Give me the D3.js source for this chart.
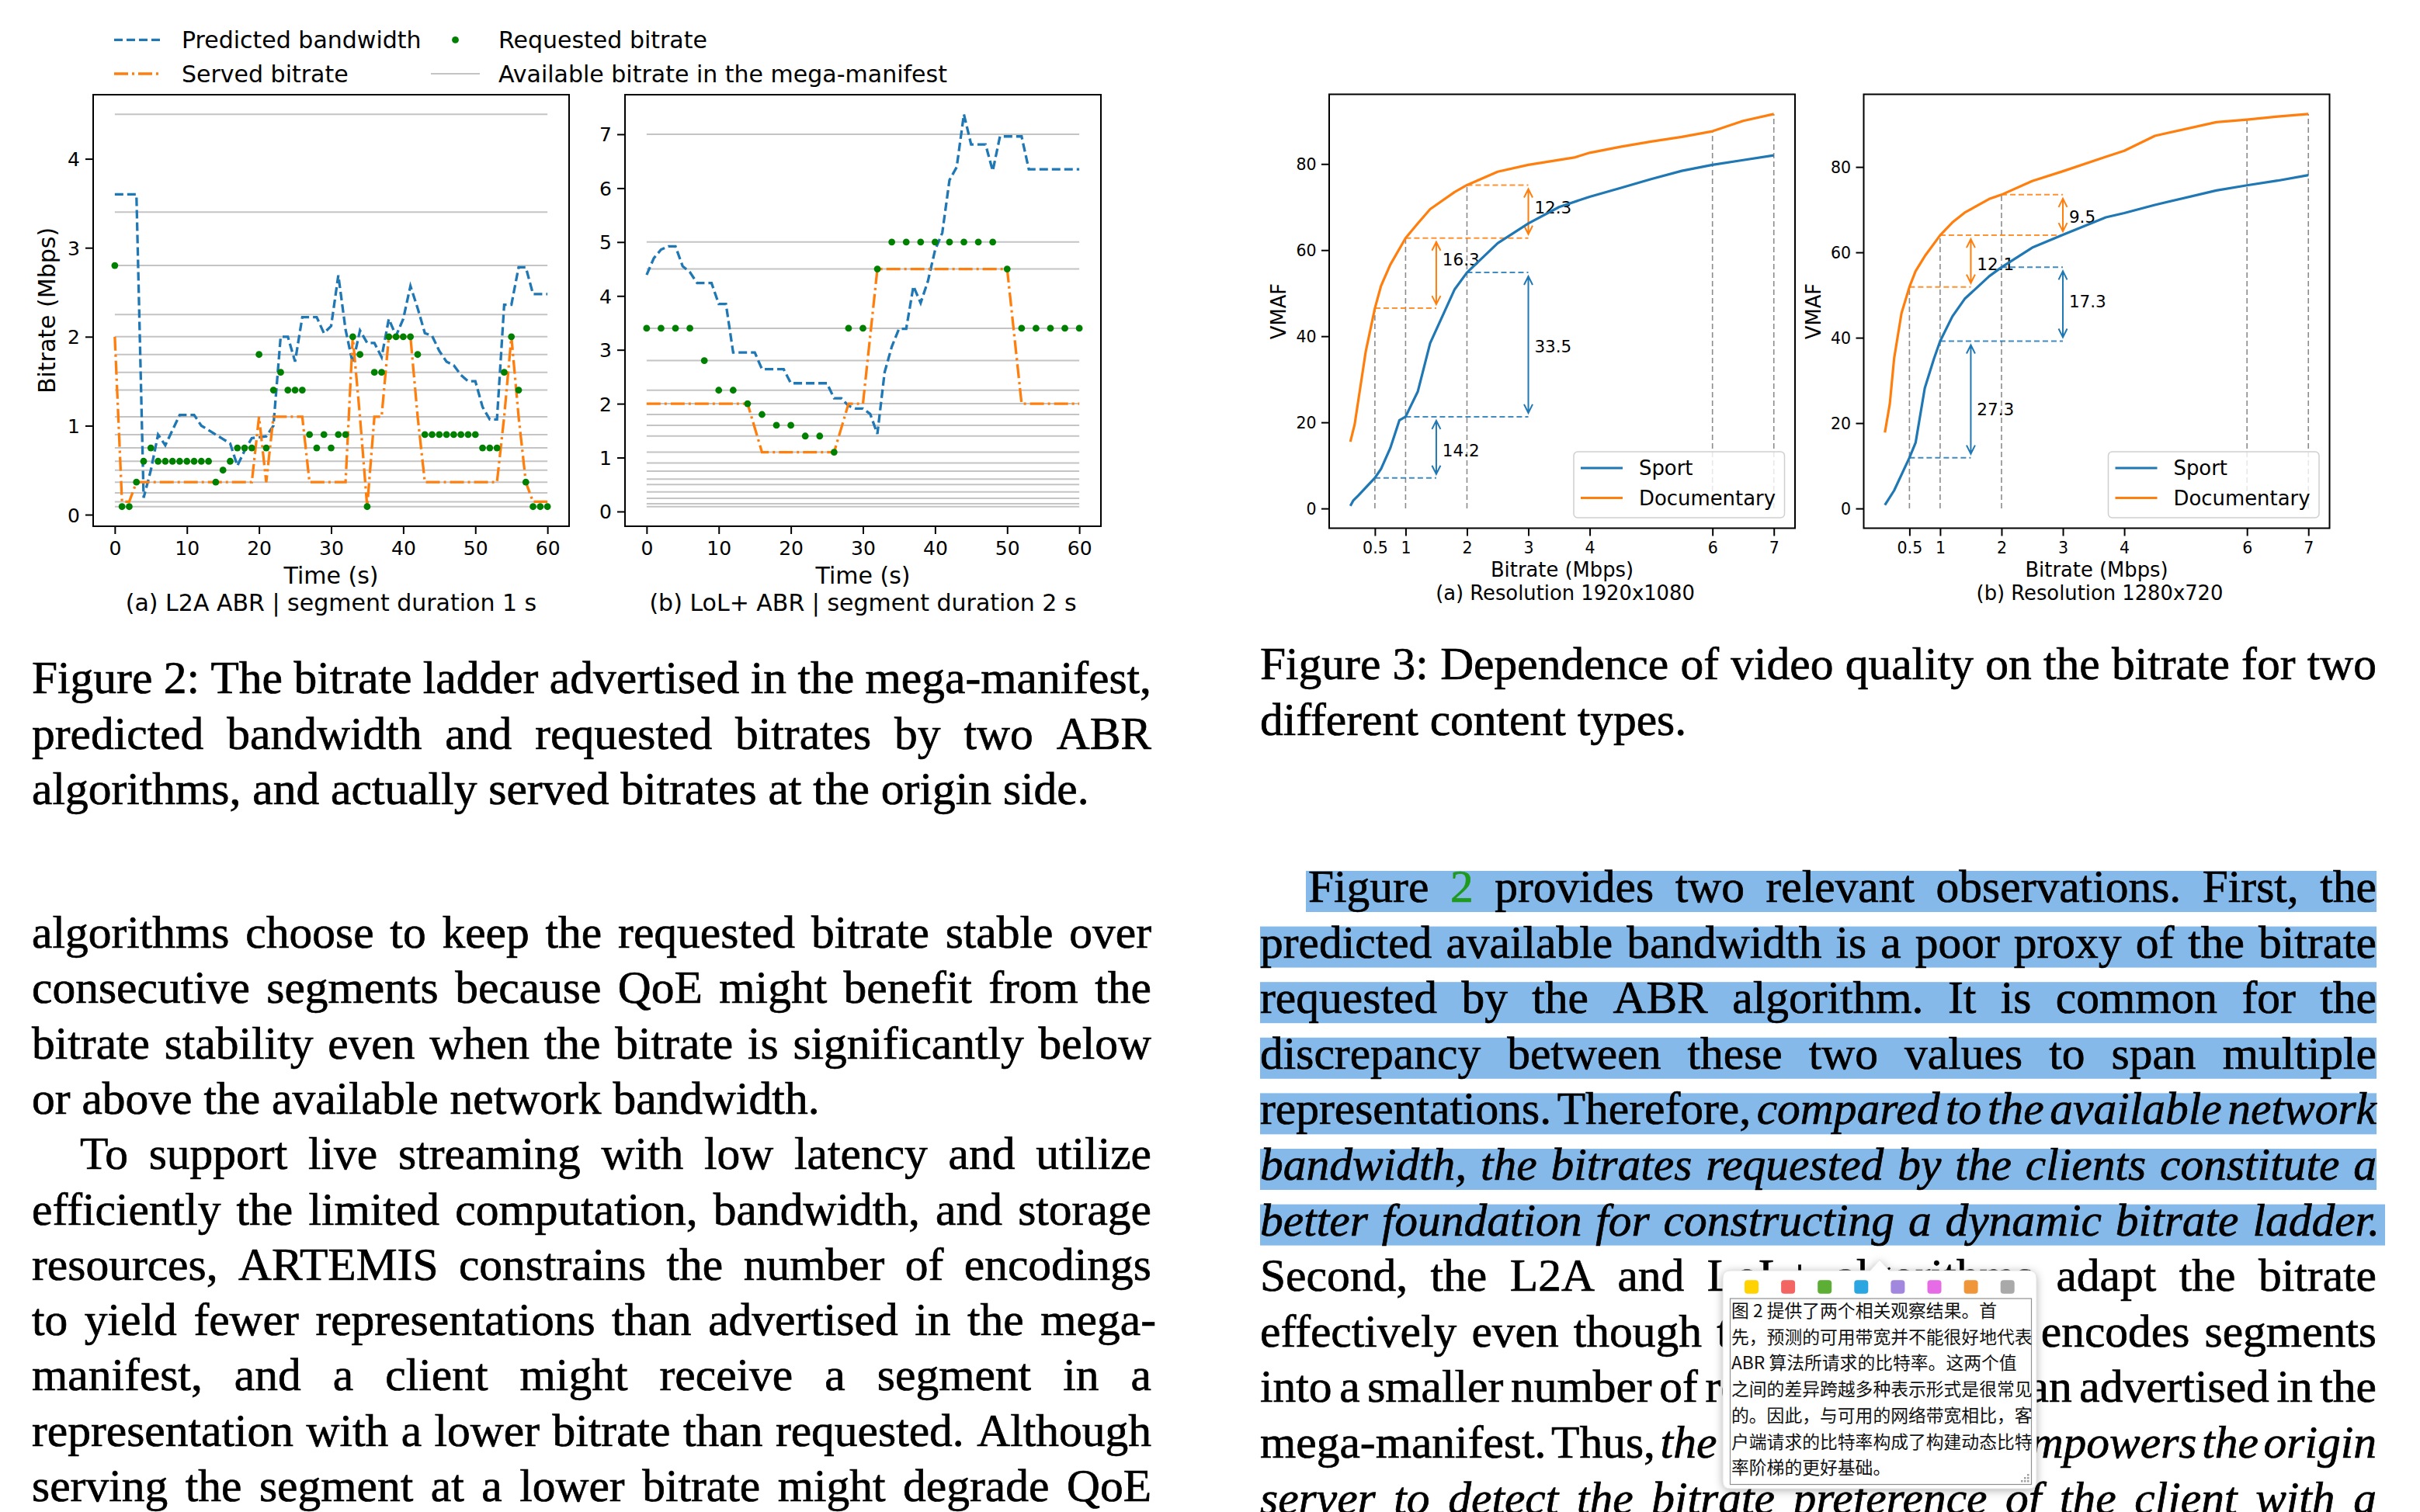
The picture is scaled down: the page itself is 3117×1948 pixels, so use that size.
<!DOCTYPE html>
<html>
<head>
<meta charset="utf-8">
<title>Figures 2 and 3</title>
<script src="https://cdn.jsdelivr.net/npm/d3@7"></script>
<style>
html,body{margin:0;padding:0;background:#ffffff;}
svg{display:block;}
</style>
</head>
<body>
<svg id="page" width="3117" height="1948" viewBox="0 0 3117 1948"></svg>
<script>
// ================= Figure 2 data =================
const timeA = [0,1,2,3,4,5,6,7,8,9,10,11,12,13,14,15,16,17,18,19,20,21,22,23,24,25,26,27,28,29,30,31,32,33,34,35,36,37,38,39,40,41,42,43,44,45,46,47,48,49,50,51,52,53,54,55,56,57,58,59,60];
const timeB = [0,2,4,6,8,10,12,14,16,18,20,22,24,26,28,30,32,34,36,38,40,42,44,46,48,50,52,54,56,58,60];
const ladderA = [0.09,0.145,0.245,0.365,0.5,0.6,0.75,0.9,1.1,1.4,1.6,1.8,2.0,2.25,2.8,3.4,4.5];
const ladderB = [0.09,0.145,0.245,0.365,0.5,0.6,0.75,0.9,1.1,1.4,1.6,1.8,2.0,2.25,2.8,3.4,4.5,5.0,7.0];

const predictedA = [3.6,3.6,3.6,3.6,0.19,0.5,0.9,0.78,0.95,1.12,1.12,1.12,1.0,0.95,0.9,0.85,0.8,0.55,0.72,0.86,0.87,0.88,1.0,2.0,2.0,1.72,2.22,2.22,2.22,2.04,2.12,2.69,2.08,1.7,2.07,1.93,1.93,1.77,2.2,2.01,2.2,2.57,2.32,2.04,2.01,1.84,1.72,1.68,1.57,1.5,1.5,1.21,1.07,1.07,2.36,2.36,2.78,2.78,2.48,2.48,2.48];
const servedA = [2.0,0.145,0.145,0.365,0.365,0.365,0.365,0.365,0.365,0.365,0.365,0.365,0.365,0.365,0.365,0.365,0.365,0.365,0.365,0.365,1.1,0.365,1.1,1.1,1.1,1.1,1.1,0.365,0.365,0.365,0.365,0.365,0.365,2.0,1.1,0.09,1.1,1.1,2.0,2.0,2.0,2.0,1.1,0.365,0.365,0.365,0.365,0.365,0.365,0.365,0.365,0.365,0.365,0.365,1.1,2.0,1.1,0.365,0.145,0.145,0.145];
const requestedA = [2.8,0.09,0.09,0.365,0.6,0.75,0.6,0.6,0.6,0.6,0.6,0.6,0.6,0.6,0.365,0.5,0.6,0.75,0.75,0.75,1.8,0.75,1.4,1.6,1.4,1.4,1.4,0.9,0.75,0.9,0.75,0.9,0.9,2.0,1.8,0.09,1.6,1.6,2.0,2.0,2.0,2.0,1.8,0.9,0.9,0.9,0.9,0.9,0.9,0.9,0.9,0.75,0.75,0.75,1.6,2.0,1.4,0.365,0.09,0.09,0.09];

const predictedB = [4.39,4.7,4.86,4.92,4.92,4.55,4.44,4.24,4.24,4.24,3.85,3.85,2.95,2.95,2.95,2.95,2.64,2.64,2.64,2.64,2.38,2.38,2.38,2.38,2.38,2.38,2.1,2.1,1.96,1.91,1.91,1.81,1.44,2.58,3.06,3.39,3.39,4.18,3.87,4.27,4.85,5.17,6.15,6.39,7.37,6.81,6.81,6.81,6.32,6.96,6.96,6.96,6.96,6.35,6.35,6.35,6.35,6.35,6.35,6.35,6.35];
const servedB = [2.0,2.0,2.0,2.0,2.0,2.0,2.0,2.0,1.1,1.1,1.1,1.1,1.1,1.1,2.0,2.0,4.5,4.5,4.5,4.5,4.5,4.5,4.5,4.5,4.5,4.5,2.0,2.0,2.0,2.0,2.0];
const requestedB = [3.4,3.4,3.4,3.4,2.8,2.25,2.25,2.0,1.8,1.6,1.6,1.4,1.4,1.1,3.4,3.4,4.5,5.0,5.0,5.0,5.0,5.0,5.0,5.0,5.0,4.5,3.4,3.4,3.4,3.4,3.4];

const fig2TicksX = [0,10,20,30,40,50,60];
const fig2TicksYA = [0,1,2,3,4];
const fig2TicksYB = [0,1,2,3,4,5,6,7];
const fig2Legend = ["Predicted bandwidth","Requested bitrate","Served bitrate","Available bitrate in the mega-manifest"];

// ================= Figure 3 data =================
const sportRateA = [0.1,0.15,0.23,0.5,0.6,0.75,0.9,1.0,1.2,1.4,1.8,2.0,2.5,3.0,3.5,4.0,4.5,5.0,5.5,6.0,6.5,7.0];
const sportVmafA = [0.6,1.9,3.0,7.1,9.2,14.0,20.5,21.3,27.2,38.4,50.9,54.8,61.6,66.2,70.0,72.4,74.4,76.5,78.4,79.8,80.9,82.0];
const docRateA = [0.1,0.17,0.23,0.35,0.5,0.6,0.75,1.0,1.2,1.4,1.8,2.0,2.5,3.0,3.75,4.0,4.5,5.0,5.5,6.0,6.5,7.0];
const docVmafA = [15.5,19.5,25.1,36.4,46.5,51.7,56.6,62.8,66.2,69.5,73.5,75.1,78.2,79.8,81.5,82.6,84.0,85.2,86.3,87.6,90.0,91.6];
// label heights (VMAF) of the gap annotations: [doc @3, doc @1.5, sport @3, sport @1.5]
const gapLabelYA = [69.9,57.8,37.6,13.5];

const sportRateB = [0.1,0.25,0.5,0.6,0.75,0.9,1.0,1.2,1.4,1.8,2.0,2.5,3.0,3.7,4.0,4.5,5.5,6.0,6.5,7.0];
const sportVmafB = [0.8,4.2,11.9,15.4,28.2,35.1,39.2,45.0,49.1,54.4,56.5,61.1,64.1,68.2,69.2,71.1,74.5,75.7,76.8,78.1];
const docRateB = [0.1,0.18,0.25,0.37,0.5,0.6,0.75,1.0,1.2,1.4,1.8,2.0,2.5,3.0,3.7,4.0,4.5,5.5,6.0,6.5,7.0];
const docVmafB = [17.8,24.5,35.1,45.7,51.9,55.6,59.1,64.0,67.0,69.3,72.5,73.5,76.7,79.0,82.4,83.8,87.3,90.5,91.1,91.8,92.4];
const gapLabelYB = [68.4,57.2,48.5,23.3];

const fig3TicksX = [0.5,1,2,3,4,6,7];
const fig3TicksY = [0,20,40,60,80];
const fig3Guides = [0.5,1,2,6,7];
const fig3Series = ["Sport","Documentary"];

// ================= Page text =================
const leftCaption = [
  "Figure 2: The bitrate ladder advertised in the mega-manifest,",
  "predicted bandwidth and requested bitrates by two ABR",
  "algorithms, and actually served bitrates at the origin side."
];
const leftBody = [
  "algorithms choose to keep the requested bitrate stable over",
  "consecutive segments because QoE might benefit from the",
  "bitrate stability even when the bitrate is significantly below",
  "or above the available network bandwidth.",
  "To support live streaming with low latency and utilize",
  "efficiently the limited computation, bandwidth, and storage",
  "resources, ARTEMIS constrains the number of encodings",
  "to yield fewer representations than advertised in the mega-",
  "manifest, and a client might receive a segment in a",
  "representation with a lower bitrate than requested. Although",
  "serving the segment at a lower bitrate might degrade QoE"
];
const rightCaption = [
  "Figure 3: Dependence of video quality on the bitrate for two",
  "different content types."
];
const rightBody = [
  [{t:"Figure "},{t:"2",c:"#1f9a1f"},{t:" provides two relevant observations. First, the"}],
  [{t:"predicted available bandwidth is a poor proxy of the bitrate"}],
  [{t:"requested by the ABR algorithm. It is common for the"}],
  [{t:"discrepancy between these two values to span multiple"}],
  [{t:"representations. Therefore,"},{t:" compared to the available network",i:true}],
  [{t:"bandwidth, the bitrates requested by the clients constitute a",i:true}],
  [{t:"better foundation for constructing a dynamic bitrate ladder.",i:true}],
  [{t:"Second, the L2A and LoL+ algorithms adapt the bitrate"}],
  [{t:"effectively even though the origin server encodes segments"}],
  [{t:"into a smaller number of representations than advertised in the"}],
  [{t:"mega-manifest. Thus,"},{t:" the dynamic ladder empowers the origin",i:true}],
  [{t:"server to detect the bitrate preference of the client with a",i:true}]
];
const popupLines = [
  "图 2 提供了两个相关观察结果。首",
  "先，预测的可用带宽并不能很好地代表",
  "ABR 算法所请求的比特率。这两个值",
  "之间的差异跨越多种表示形式是很常见",
  "的。因此，与可用的网络带宽相比，客",
  "户端请求的比特率构成了构建动态比特",
  "率阶梯的更好基础。"
];
const swatchColors = ["#ffd200","#f26563","#5cae35","#2ca6e0","#a287df","#e66ce6","#f0963a","#a9a9a9"];

// ================= Drawing =================
const C0 = "#1f77b4", C1 = "#ff7f0e", CG = "#008000";
const SANS = "DejaVu Sans", SERIF = "Liberation Serif", CJK = "Noto Sans CJK SC";
const svg = d3.select("#page");
svg.append("rect").attr("width",3117).attr("height",1948).attr("fill","#fff");

const defs = svg.append("defs");
const flt = defs.append("filter").attr("id","shadow").attr("x","-20%").attr("y","-20%").attr("width","140%").attr("height","140%");
flt.append("feDropShadow").attr("dx",0).attr("dy",2).attr("stdDeviation",6).attr("flood-color","#000").attr("flood-opacity",0.32);

function padDomain(lo, hi){ const s = hi - lo; return [lo - 0.05*s, hi + 0.05*s]; }

// ---------- Figure 2 ----------
function fig2Panel(p){
  const g = svg.append("g");
  const allY = [].concat(p.ladder, p.pred, p.served, p.req);
  const x = d3.scaleLinear().domain(padDomain(d3.min(p.tq), d3.max(p.tq))).range([p.left, p.right]);
  const y = d3.scaleLinear().domain(padDomain(d3.min(allY), d3.max(allY))).range([p.bottom, p.top]);

  g.append("g").selectAll("line").data(p.ladder).join("line")
    .attr("x1", x(d3.min(p.tq))).attr("x2", x(d3.max(p.tq)))
    .attr("y1", d => y(d)).attr("y2", d => y(d))
    .attr("stroke", "#c4c4c4").attr("stroke-width", 2);

  const line = d3.line().x(d => x(d[0])).y(d => y(d[1]));
  g.append("path").datum(d3.zip(p.tp, p.pred)).attr("d", line)
    .attr("fill","none").attr("stroke",C0).attr("stroke-width",3.3).attr("stroke-dasharray","11,5");
  g.append("path").datum(d3.zip(p.tq, p.served)).attr("d", line)
    .attr("fill","none").attr("stroke",C1).attr("stroke-width",3.3).attr("stroke-dasharray","18,5,3,5");
  g.append("g").selectAll("circle").data(d3.zip(p.tq, p.req)).join("circle")
    .attr("cx", d => x(d[0])).attr("cy", d => y(d[1])).attr("r", 4.4).attr("fill", CG);

  const ax = g.append("g").attr("transform", `translate(0,${p.bottom})`)
    .call(d3.axisBottom(x).tickValues(fig2TicksX).tickSize(10).tickPadding(9).tickSizeOuter(0));
  const ay = g.append("g").attr("transform", `translate(${p.left},0)`)
    .call(d3.axisLeft(y).tickValues(p.yTicks).tickSize(10).tickPadding(7).tickSizeOuter(0).tickFormat(d3.format("d")));
  [ax, ay].forEach(a => {
    a.select(".domain").remove();
    a.selectAll(".tick line").attr("stroke","#000").attr("stroke-width",2);
    a.selectAll(".tick text").attr("font-family",SANS).attr("font-size",25).attr("fill","#000");
  });
  ay.selectAll(".tick text").attr("dy","0.36em");

  g.append("rect").attr("x",p.left).attr("y",p.top).attr("width",p.right-p.left).attr("height",p.bottom-p.top)
    .attr("fill","none").attr("stroke","#000").attr("stroke-width",2);

  const cx = (p.left + p.right)/2;
  g.append("text").attr("x",cx).attr("y",p.bottom+73.5).attr("text-anchor","middle")
    .attr("font-family",SANS).attr("font-size",30).text("Time (s)");
  g.append("text").attr("x",cx).attr("y",p.bottom+108.5).attr("text-anchor","middle")
    .attr("font-family",SANS).attr("font-size",30).text(p.caption);
  if (p.ylabel){
    g.append("text").attr("transform",`translate(${p.left-49},${(p.top+p.bottom)/2}) rotate(-90)`)
      .attr("text-anchor","middle").attr("font-family",SANS).attr("font-size",30).text(p.ylabel);
  }
}
fig2Panel({left:120,right:733,top:122,bottom:678,tq:timeA,tp:timeA,ladder:ladderA,pred:predictedA,served:servedA,req:requestedA,yTicks:fig2TicksYA,caption:"(a) L2A ABR | segment duration 1 s",ylabel:"Bitrate (Mbps)"});
fig2Panel({left:805,right:1418,top:122,bottom:678,tq:timeB,tp:timeA,ladder:ladderB,pred:predictedB,served:servedB,req:requestedB,yTicks:fig2TicksYB,caption:"(b) LoL+ ABR | segment duration 2 s"});

// Figure 2 legend (no frame)
(function(){
  const g = svg.append("g").attr("font-family",SANS).attr("font-size",30);
  const r1 = 51.4, r2 = 95;
  g.append("line").attr("x1",147).attr("x2",208).attr("y1",r1).attr("y2",r1).attr("stroke",C0).attr("stroke-width",3.3).attr("stroke-dasharray","11,5");
  g.append("text").attr("x",234).attr("y",r1+10.8).text(fig2Legend[0]);
  g.append("circle").attr("cx",586.5).attr("cy",r1).attr("r",4.4).attr("fill",CG);
  g.append("text").attr("x",642).attr("y",r1+10.8).text(fig2Legend[1]);
  g.append("line").attr("x1",147).attr("x2",208).attr("y1",r2).attr("y2",r2).attr("stroke",C1).attr("stroke-width",3.3).attr("stroke-dasharray","18,5,3,5");
  g.append("text").attr("x",234).attr("y",r2+10.8).text(fig2Legend[2]);
  g.append("line").attr("x1",555).attr("x2",618).attr("y1",r2).attr("y2",r2).attr("stroke","#c4c4c4").attr("stroke-width",2);
  g.append("text").attr("x",642).attr("y",r2+10.8).text(fig2Legend[3]);
})();

// ---------- Figure 3 ----------
function valueAt(rates, vmaf, r){ const i = rates.indexOf(r); return i >= 0 ? vmaf[i] : null; }

function fig3Panel(p){
  const g = svg.append("g");
  const allX = [].concat(p.sr, p.dr);
  const allY = [0].concat(p.sv, p.dv);
  const x = d3.scaleLinear().domain(padDomain(d3.min(allX), d3.max(allX))).range([p.left, p.right]);
  const y = d3.scaleLinear().domain(padDomain(d3.min(allY), d3.max(allY))).range([p.bottom, p.top]);

  g.append("g").selectAll("line").data(fig3Guides).join("line")
    .attr("x1", d => x(d)).attr("x2", d => x(d))
    .attr("y1", y(0)).attr("y2", d => y(valueAt(p.dr, p.dv, d)))
    .attr("stroke","#8c8c8c").attr("stroke-width",1.6).attr("stroke-dasharray","7,4");

  const series = [
    {rates:p.dr, vmaf:p.dv, color:C1, lab:[p.labY[0], p.labY[1]]},
    {rates:p.sr, vmaf:p.sv, color:C0, lab:[p.labY[2], p.labY[3]]}
  ];
  series.forEach(s => {
    const v05 = valueAt(s.rates, s.vmaf, 0.5), v1 = valueAt(s.rates, s.vmaf, 1), v2 = valueAt(s.rates, s.vmaf, 2);
    const hl = [[2,3,v2],[1,3,v1],[0.5,1.5,v05]];
    g.append("g").selectAll("line").data(hl).join("line")
      .attr("x1", d => x(d[0])).attr("x2", d => x(d[1]))
      .attr("y1", d => y(d[2])).attr("y2", d => y(d[2]))
      .attr("stroke", s.color).attr("stroke-width",2).attr("stroke-dasharray","7,4").attr("opacity",0.85);
    const arrows = [[3, v1, v2, s.lab[0]], [1.5, v05, v1, s.lab[1]]];
    arrows.forEach(a => {
      const ax = x(a[0]), yTop = y(a[2]) + 5, yBot = y(a[1]) - 5;
      const hl2 = 11, hw = 5.5;
      g.append("path")
        .attr("d", `M${ax},${yTop}L${ax},${yBot}M${ax-hw},${yTop+hl2}L${ax},${yTop}L${ax+hw},${yTop+hl2}M${ax-hw},${yBot-hl2}L${ax},${yBot}L${ax+hw},${yBot-hl2}`)
        .attr("fill","none").attr("stroke",s.color).attr("stroke-width",2);
      g.append("text").attr("x", x(a[0] + 0.1)).attr("y", y(a[3]) + 7.7)
        .attr("font-family",SANS).attr("font-size",21.5).attr("fill","#000")
        .text(d3.format(".1f")(a[2]-a[1]));
    });
  });

  const line = d3.line().x(d => x(d[0])).y(d => y(d[1]));
  [{rates:p.sr, vmaf:p.sv, color:C0},{rates:p.dr, vmaf:p.dv, color:C1}].forEach(s => {
    g.append("path").datum(d3.zip(s.rates, s.vmaf)).attr("d", line)
      .attr("fill","none").attr("stroke",s.color).attr("stroke-width",3.2).attr("stroke-linejoin","round");
  });

  const ax = g.append("g").attr("transform",`translate(0,${p.bottom})`)
    .call(d3.axisBottom(x).tickValues(fig3TicksX).tickSize(10).tickPadding(8).tickSizeOuter(0).tickFormat(d => String(d)));
  const ay = g.append("g").attr("transform",`translate(${p.left},0)`)
    .call(d3.axisLeft(y).tickValues(fig3TicksY).tickSize(10).tickPadding(6.5).tickSizeOuter(0));
  [ax, ay].forEach(a => {
    a.select(".domain").remove();
    a.selectAll(".tick line").attr("stroke","#000").attr("stroke-width",2);
    a.selectAll(".tick text").attr("font-family",SANS).attr("font-size",20.5).attr("fill","#000");
  });
  ay.selectAll(".tick text").attr("dy","0.36em");

  g.append("rect").attr("x",p.left).attr("y",p.top).attr("width",p.right-p.left).attr("height",p.bottom-p.top)
    .attr("fill","none").attr("stroke","#000").attr("stroke-width",2);

  const cx = (p.left + p.right)/2;
  g.append("text").attr("x",cx).attr("y",p.bottom+62).attr("text-anchor","middle")
    .attr("font-family",SANS).attr("font-size",25.8).text("Bitrate (Mbps)");
  g.append("text").attr("x",cx+4).attr("y",p.bottom+92.5).attr("text-anchor","middle")
    .attr("font-family",SANS).attr("font-size",25.8).text(p.caption);
  g.append("text").attr("transform",`translate(${p.left-56},${(p.top+p.bottom)/2}) rotate(-90)`)
    .attr("text-anchor","middle").attr("font-family",SANS).attr("font-size",25.8).text("VMAF");

  const lx = p.right - 285, ly = p.bottom - 98.5;
  const lg = g.append("g");
  lg.append("rect").attr("x",lx).attr("y",ly).attr("width",271.5).attr("height",85).attr("rx",5)
    .attr("fill","#fff").attr("fill-opacity",0.8).attr("stroke","#cfcfcf").attr("stroke-width",1.5);
  fig3Series.forEach((name,i) => {
    const yy = ly + 21 + i*38.5;
    lg.append("line").attr("x1",lx+9).attr("x2",lx+63).attr("y1",yy).attr("y2",yy)
      .attr("stroke", i===0 ? C0 : C1).attr("stroke-width",3.2);
    lg.append("text").attr("x",lx+84).attr("y",yy+9.4).attr("font-family",SANS).attr("font-size",25.9).text(name);
  });
}
fig3Panel({left:1712,right:2312,top:121.5,bottom:680.5,sr:sportRateA,sv:sportVmafA,dr:docRateA,dv:docVmafA,labY:gapLabelYA,caption:"(a) Resolution 1920x1080"});
fig3Panel({left:2400.5,right:3000.5,top:121.5,bottom:680.5,sr:sportRateB,sv:sportVmafB,dr:docRateB,dv:docVmafB,labY:gapLabelYB,caption:"(b) Resolution 1280x720"});

// ---------- Paper text ----------
const FS = 59.5;
const meas = svg.append("text").attr("x",-5000).attr("y",-5000).attr("font-family",SERIF).attr("font-size",FS);
function mw(word, italic){
  meas.attr("font-style", italic ? "italic" : "normal").text(word);
  return meas.node().getComputedTextLength();
}
const spaceW = mw("a a") - mw("aa");

function setLine(segs, x0, x1, baseline, justify){
  const words = [];
  segs.forEach(s => s.t.split(" ").filter(w => w.length).forEach(w => words.push({w, i:!!s.i, c:s.c || "#000"})));
  words.forEach(w => w.len = mw(w.w, w.i));
  const total = d3.sum(words, w => w.len);
  const gap = (justify && words.length > 1) ? (x1 - x0 - total)/(words.length - 1) : spaceW;
  const t = svg.append("text").attr("y", baseline).attr("font-family", SERIF).attr("font-size", FS)
    .attr("fill","#000").attr("stroke-width",0.7);
  let xx = x0;
  words.forEach(w => {
    t.append("tspan").attr("x", xx).attr("font-style", w.i ? "italic" : "normal")
      .attr("fill", w.c).attr("stroke", w.c).text(w.w);
    xx += w.len + gap;
  });
}

const LX0 = 41, LX1 = 1483, RX0 = 1623, RX1 = 3061, INDENT = 62;
leftCaption.forEach((s, k) => setLine([{t:s}], LX0, LX1, 893 + k*71.5, k < 2));
leftBody.forEach((s, k) => setLine([{t:s}], k === 4 ? LX0 + INDENT : LX0, k === 7 ? LX1 + 6 : LX1, 1221 + k*71.3, k !== 3));
rightCaption.forEach((s, k) => setLine([{t:s}], RX0, RX1, 875 + k*71.5, k < 1));

const hlG = svg.append("g");
rightBody.slice(0,7).forEach((segs, k) => {
  const b = 1162 + k*71.6;
  const xs = k === 0 ? RX0 + INDENT - 3 : RX0;
  const xe = k === 6 ? 3072 : RX1;
  hlG.append("rect").attr("x", xs).attr("y", b - 40).attr("width", xe - xs).attr("height", 53).attr("fill", "#85b9ea");
});
rightBody.forEach((segs, k) => setLine(segs, k === 0 ? RX0 + INDENT : RX0, k === 6 ? RX1 + 4 : RX1, 1162 + k*71.6, true));

// ---------- Translation popup ----------
(function(){
  const g = svg.append("g");
  const L = 2219, R = 2623, T = 1637, B = 1918, r = 10, cx = 2421;
  const path = `M${L+r},${T} L${cx-12},${T} L${cx},${T-14} L${cx+12},${T} L${R-r},${T} Q${R},${T} ${R},${T+r} L${R},${B-r} Q${R},${B} ${R-r},${B} L${L+r},${B} Q${L},${B} ${L},${B-r} L${L},${T+r} Q${L},${T} ${L+r},${T} Z`;
  g.append("path").attr("d", path).attr("fill","#fff").attr("filter","url(#shadow)");
  g.append("path").attr("d", path).attr("fill","#fff").attr("stroke","#e4e4e4").attr("stroke-width",1);
  swatchColors.forEach((c, i) => {
    g.append("rect").attr("x", 2247 + i*47.1).attr("y", 1649.3).attr("width", 18).attr("height", 17.5).attr("rx", 4).attr("fill", c);
  });
  g.append("rect").attr("x", 2228.5).attr("y", 1673).attr("width", 388).attr("height", 239.5)
    .attr("fill","#fff").attr("stroke","#8f8f8f").attr("stroke-width",1.2);
  const t = g.append("text").attr("font-family", CJK).attr("font-size", 22.8).attr("fill","#111");
  popupLines.forEach((s, k) => t.append("tspan").attr("x", 2230).attr("y", 1697 + k*33.7).text(s));
  [[2611,1899],[2607,1903],[2611,1903],[2603,1907],[2607,1907],[2611,1907]].forEach(d => {
    g.append("rect").attr("x", d[0]).attr("y", d[1]).attr("width", 2.5).attr("height", 2.5).attr("fill", "#a0a0a0");
  });
})();
meas.remove();
</script>
</body>
</html>
